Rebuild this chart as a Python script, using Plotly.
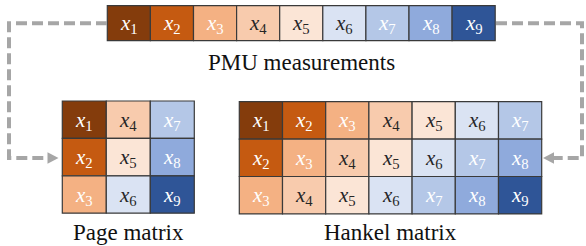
import plotly.graph_objects as go

# ---- data ----
pmu_indices = [1, 2, 3, 4, 5, 6, 7, 8, 9]
cell_colors = ["#843C0C", "#C55A11", "#F4B183", "#F8CBAD", "#FBE5D6",
               "#DAE3F3", "#B4C7E7", "#8FAADC", "#2F5597"]
label_colors = ["#FFFFFF", "#FFFFFF", "#FFFFFF", "#262626", "#262626",
                "#262626", "#FFFFFF", "#FFFFFF", "#FFFFFF"]
page_matrix = [[1, 4, 7], [2, 5, 8], [3, 6, 9]]
hankel_matrix = [[1, 2, 3, 4, 5, 6, 7], [2, 3, 4, 5, 6, 7, 8], [3, 4, 5, 6, 7, 8, 9]]
captions = ["PMU measurements", "Page matrix", "Hankel matrix"]

# ---- layout constants ----
W, H = 586, 246
SERIF = "Liberation Serif"
LABEL_SIZE = 21
CAP_SIZE = 23
BORDER = "#3A3A3A"
DASH_COLOR = "#A6A6A6"

fig = go.Figure()
shapes = []
annotations = []


def add_grid(rows, x0, y0, cw, ch):
    for r, row in enumerate(rows):
        for c, idx in enumerate(row):
            xa, ya = x0 + c * cw, y0 + r * ch
            shapes.append(dict(type="rect", xref="x", yref="y",
                               x0=xa, x1=xa + cw, y0=ya, y1=ya + ch,
                               fillcolor=cell_colors[idx - 1],
                               line=dict(color=BORDER, width=1.2), layer="above"))
            annotations.append(dict(x=xa + cw / 2, y=ya + ch / 2 + 1, xref="x", yref="y",
                                    text=f"<i>x</i><sub>{idx}</sub>", showarrow=False,
                                    font=dict(family=SERIF, size=LABEL_SIZE,
                                              color=label_colors[idx - 1]),
                                    xanchor="center", yanchor="middle"))


add_grid([pmu_indices], 107.3, 5.7, 43.1, 35.0)
add_grid(page_matrix, 62.3, 101.0, 44.0, 37.4)
add_grid(hankel_matrix, 239.3, 101.7, 43.2, 37.4)

for text, cx, cy in zip(captions, [301.5, 128.3, 390.5], [62.5, 232.5, 232.5]):
    annotations.append(dict(x=cx, y=cy, xref="x", yref="y", text=text, showarrow=False,
                            font=dict(family=SERIF, size=CAP_SIZE, color="#111111"),
                            xanchor="center", yanchor="middle"))

# dashed connectors
shapes.append(dict(type="path", xref="x", yref="y",
                   path="M 107 23.3 L 9 23.3 L 9 158 L 48 158",
                   line=dict(color=DASH_COLOR, width=4, dash="11px,5px")))
shapes.append(dict(type="path", xref="x", yref="y",
                   path="M 496 23.3 L 582 23.3 L 582 158 L 554 158",
                   line=dict(color=DASH_COLOR, width=4, dash="11px,5px")))
# arrowheads
shapes.append(dict(type="path", xref="x", yref="y",
                   path="M 47.5 152.3 L 58.5 158 L 47.5 163.7 Z",
                   fillcolor=DASH_COLOR, line=dict(color=DASH_COLOR, width=0)))
shapes.append(dict(type="path", xref="x", yref="y",
                   path="M 554 152.3 L 543 158 L 554 163.7 Z",
                   fillcolor=DASH_COLOR, line=dict(color=DASH_COLOR, width=0)))

fig.update_layout(
    width=W, height=H, margin=dict(l=0, r=0, t=0, b=0),
    paper_bgcolor="white", plot_bgcolor="white",
    xaxis=dict(range=[0, W], visible=False, fixedrange=True),
    yaxis=dict(range=[H, 0], visible=False, fixedrange=True),
    shapes=shapes, annotations=annotations, showlegend=False,
)
fig.write_html("out.html", config={"displayModeBar": False},
               post_script="document.body.style.margin='0';document.body.style.overflow='hidden';")
